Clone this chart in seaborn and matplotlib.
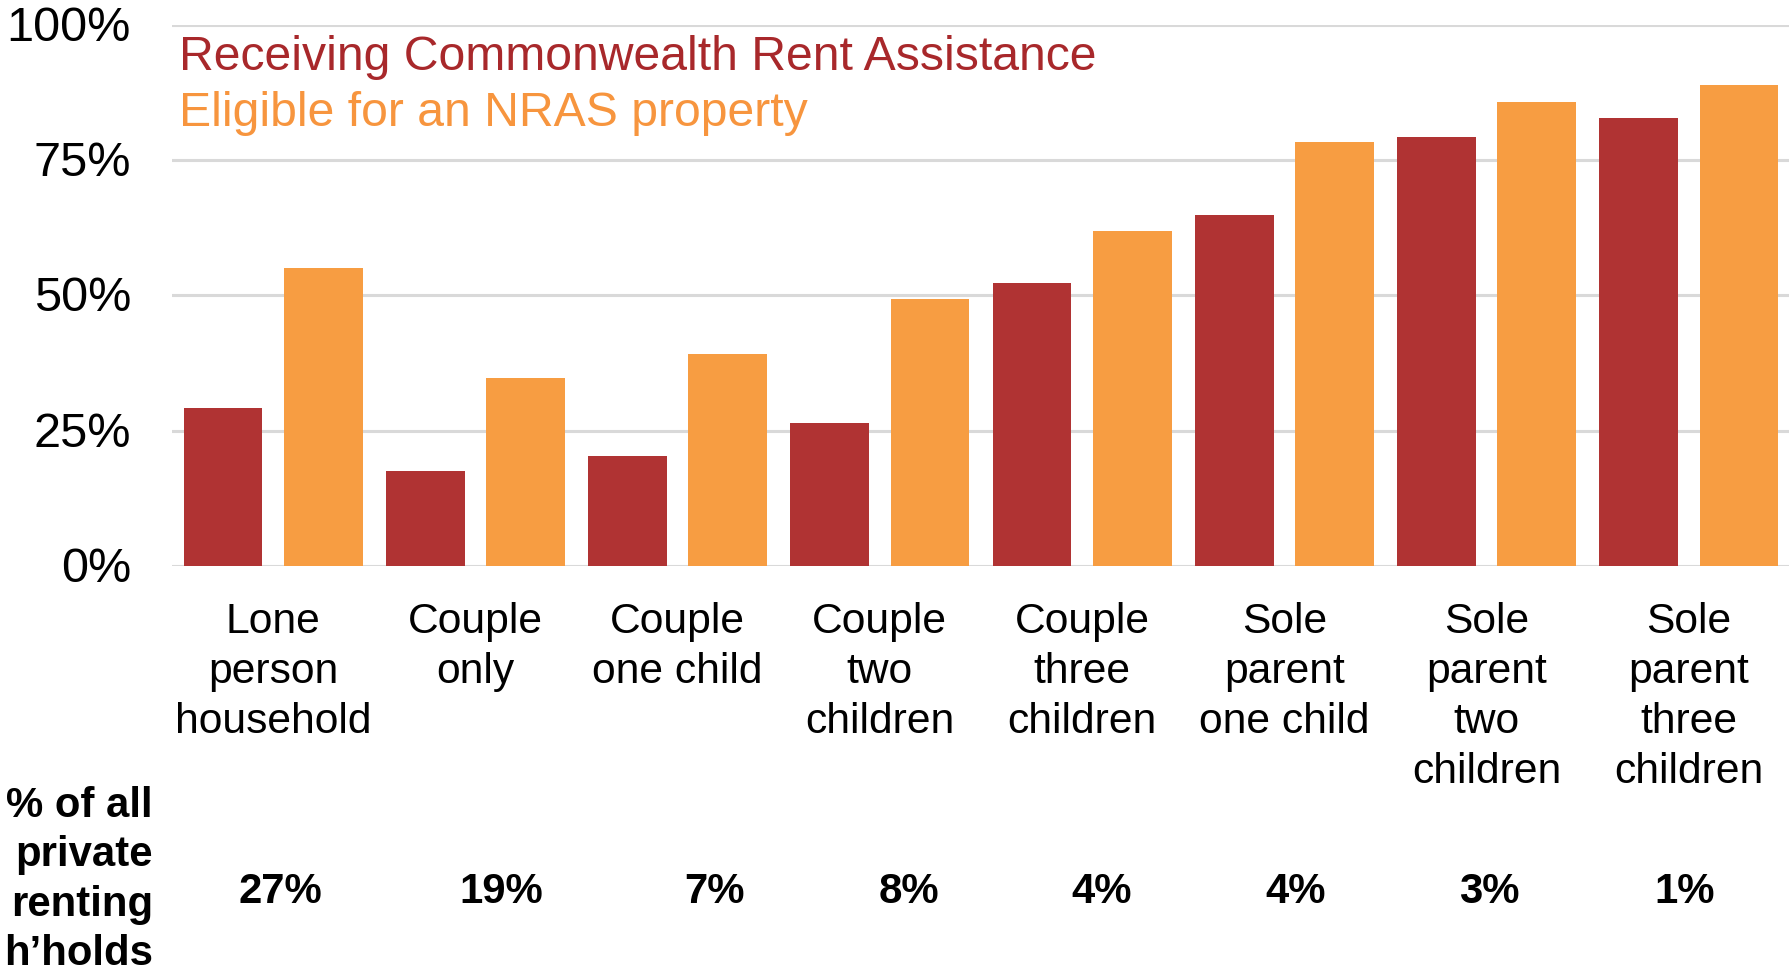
import matplotlib
matplotlib.use("Agg")
import matplotlib.pyplot as plt
import matplotlib.transforms as mtransforms
from matplotlib.ticker import FixedLocator, FuncFormatter
import pandas as pd
import seaborn as sns

# Household types along the x axis
categories = [
    "Lone\nperson\nhousehold",
    "Couple\nonly",
    "Couple\none child",
    "Couple\ntwo\nchildren",
    "Couple\nthree\nchildren",
    "Sole\nparent\none child",
    "Sole\nparent\ntwo\nchildren",
    "Sole\nparent\nthree\nchildren",
]

# Share (%) of each household type
rent_assistance = [29.2, 17.6, 20.3, 26.4, 52.4, 64.8, 79.3, 82.9]
nras_eligible = [55.1, 34.8, 39.2, 49.4, 61.9, 78.4, 85.8, 88.9]

# Share of all private renting households
share_of_renters = ["27%", "19%", "7%", "8%", "4%", "4%", "3%", "1%"]

series_names = ["Receiving Commonwealth Rent Assistance", "Eligible for an NRAS property"]
y_ticks = [0, 25, 50, 75, 100]

# Horizontal placement of the bottom-row figures (in category units)
share_label_x = [0.035, 1.13, 2.183, 3.142, 4.096, 5.055, 6.014, 6.978]

RED = "#B03333"
ORANGE = "#F79D42"
RED_TEXT = "#A8282B"
ORANGE_TEXT = "#F7953E"

df = pd.DataFrame({
    "category": categories * 2,
    "series": [series_names[0]] * len(categories) + [series_names[1]] * len(categories),
    "value": rent_assistance + nras_eligible,
})

plt.rcParams["font.family"] = ["Liberation Sans", "DejaVu Sans"]

W, H = 1790, 971
fig = plt.figure(figsize=(W / 100, H / 100), dpi=100)
ax = fig.add_axes([172 / W, 1 - 566 / H, 1 - 172 / W, (566 - 25) / H])

sns.barplot(
    data=df, x="category", y="value", hue="series",
    order=categories, hue_order=series_names,
    palette=[RED, ORANGE], width=0.993, gap=0.216,
    linewidth=0, saturation=1, legend=False, ax=ax, zorder=3,
)

ax.set_xlim(-0.5, len(categories) - 0.5)
ax.set_ylim(0, 100)
ax.yaxis.set_major_locator(FixedLocator(y_ticks))
ax.yaxis.set_major_formatter(FuncFormatter(lambda v, p: f"{v:.0f}%"))
ax.grid(axis="y", color="#D9D9D9", linewidth=2.2, zorder=0)
ax.grid(axis="x", visible=False)
ax.set_axisbelow(True)
for s in ax.spines.values():
    s.set_visible(False)
ax.set_xlabel("")
ax.set_ylabel("")
ax.tick_params(axis="y", length=0, pad=29.5, labelsize=35, labelcolor="black")
ax.tick_params(axis="x", length=0, pad=26, labelsize=30.7, labelcolor="black")
for lbl in ax.get_yticklabels():
    lbl.set_va("center")
    lbl.set_y(lbl.get_position()[1])
# nudge y tick labels slightly below their gridlines
offset = mtransforms.ScaledTranslation(0, -2.5 / 72, fig.dpi_scale_trans)
for lbl in ax.get_yticklabels():
    lbl.set_transform(lbl.get_transform() + offset)
for lbl in ax.get_xticklabels():
    lbl.set_linespacing(1.32)
    lbl.set_multialignment("center")

# Series key written as coloured text
fig.text(179 / W, 1 - 57 / H, series_names[0], color=RED_TEXT, fontsize=34.7, va="center", ha="left")
fig.text(179 / W, 1 - 113 / H, series_names[1], color=ORANGE_TEXT, fontsize=34.7, va="center", ha="left")

# Bottom row: share of all private renting households
blend = mtransforms.blended_transform_factory(ax.transData, fig.transFigure)
for xpos, txt in zip(share_label_x, share_of_renters):
    ax.text(xpos, 1 - 892 / H, txt, transform=blend, ha="center", va="center",
            fontsize=30.2, fontweight="bold", color="black")
fig.text(153 / W, 1 - 880 / H, "% of all\nprivate\nrenting\nh\u2019holds", ha="right", va="center",
         multialignment="right", fontsize=30.2, fontweight="bold", color="black", linespacing=1.3)

fig.savefig("out.png", dpi=100)
